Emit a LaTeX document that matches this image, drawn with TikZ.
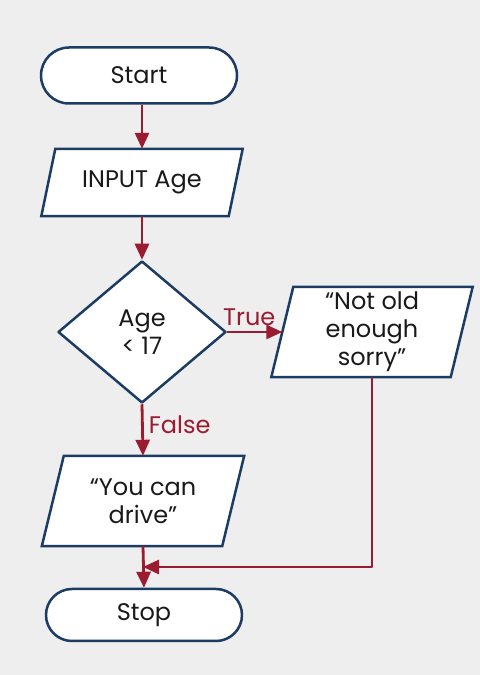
\documentclass[tikz,border=0pt]{standalone}
\usepackage{fontspec}
\setmainfont{Poppins}
\usepackage{tikz}
\usetikzlibrary{positioning,shapes.geometric,shapes.misc,arrows.meta,backgrounds}

\definecolor{flowbg}{HTML}{EEEEEE}
\definecolor{flownavy}{HTML}{1C3C63}
\definecolor{flowred}{HTML}{9B1B30}

\tikzset{
  term/.style={rounded rectangle,draw=flownavy,fill=white,line width=2.5bp,
    minimum width=196bp,minimum height=56bp,inner sep=0pt},
  io/.style={rectangle,inner sep=0pt,align=center},
  ioshape/.style={draw=flownavy,fill=white,line width=2.5bp,line join=miter},
  decide/.style={diamond,aspect=1.18,draw=flownavy,fill=white,line width=2.5bp,
    minimum width=168bp,minimum height=142bp,inner sep=0pt,align=center},
  flow/.style={flowred,line width=2.8bp,->},
  flowlabel/.style={text=flowred,inner sep=5bp},
}

\begin{document}
\begin{tikzpicture}[>={Triangle[length=16bp,width=14bp]},line join=round,
  font=\fontsize{24bp}{28bp}\selectfont,text=black!90]
%%
\node (node_start) at (139bp,599.5bp) [term] {Start};
  \node (node_input) at (142bp,492.5bp) [io,minimum width=187bp,minimum height=67bp] {INPUT Age};
  \node (node_decision) at (142bp,343bp) [decide] {Age\\< 17};
  \node (node_notold) at (372bp,343bp) [io,minimum width=179bp,minimum height=90bp] {“Not old\\enough\\sorry”};
  \node (node_youcan) at (143bp,174bp) [io,minimum width=180bp,minimum height=90bp] {“You can\\drive”};
  \node (node_stop) at (144bp,60bp) [term,minimum height=52bp] {Stop};
%
\begin{scope}[on background layer]
  \fill [flowbg] (0bp,0bp) rectangle (480bp,675bp);
  \filldraw [ioshape] ([xshift=-7bp]node_input.south west) -- ([xshift=-7bp]node_input.south east)
    -- ([xshift=7bp]node_input.north east) -- ([xshift=7bp]node_input.north west) -- cycle;
  \filldraw [ioshape] ([xshift=-11bp]node_notold.south west) -- ([xshift=-11bp]node_notold.south east)
    -- ([xshift=11bp]node_notold.north east) -- ([xshift=11bp]node_notold.north west) -- cycle;
  \filldraw [ioshape] ([xshift=-11bp]node_youcan.south west) -- ([xshift=-11bp]node_youcan.south east)
    -- ([xshift=11bp]node_youcan.north east) -- ([xshift=11bp]node_youcan.north west) -- cycle;
\end{scope}
%
\coordinate (node_join) at (node_youcan.south |- 0bp,108bp);
%
\draw [flow] (node_start.south -| node_input.north) -- (node_input.north);
  \draw [flow] (node_input.south) -- (node_decision.north);
  \draw [flow] (node_decision.east) -- node [flowlabel,above,pos=0.4] {True} (node_notold);
  \draw [flow] (node_decision.south) -- node [flowlabel,right,pos=0.4] {False} (node_youcan.north);
  \draw [flow] (node_youcan.south) -- (node_stop.north);
  \draw [flow] (node_notold.south) |- (node_join);
%
\end{tikzpicture}
\end{document}
